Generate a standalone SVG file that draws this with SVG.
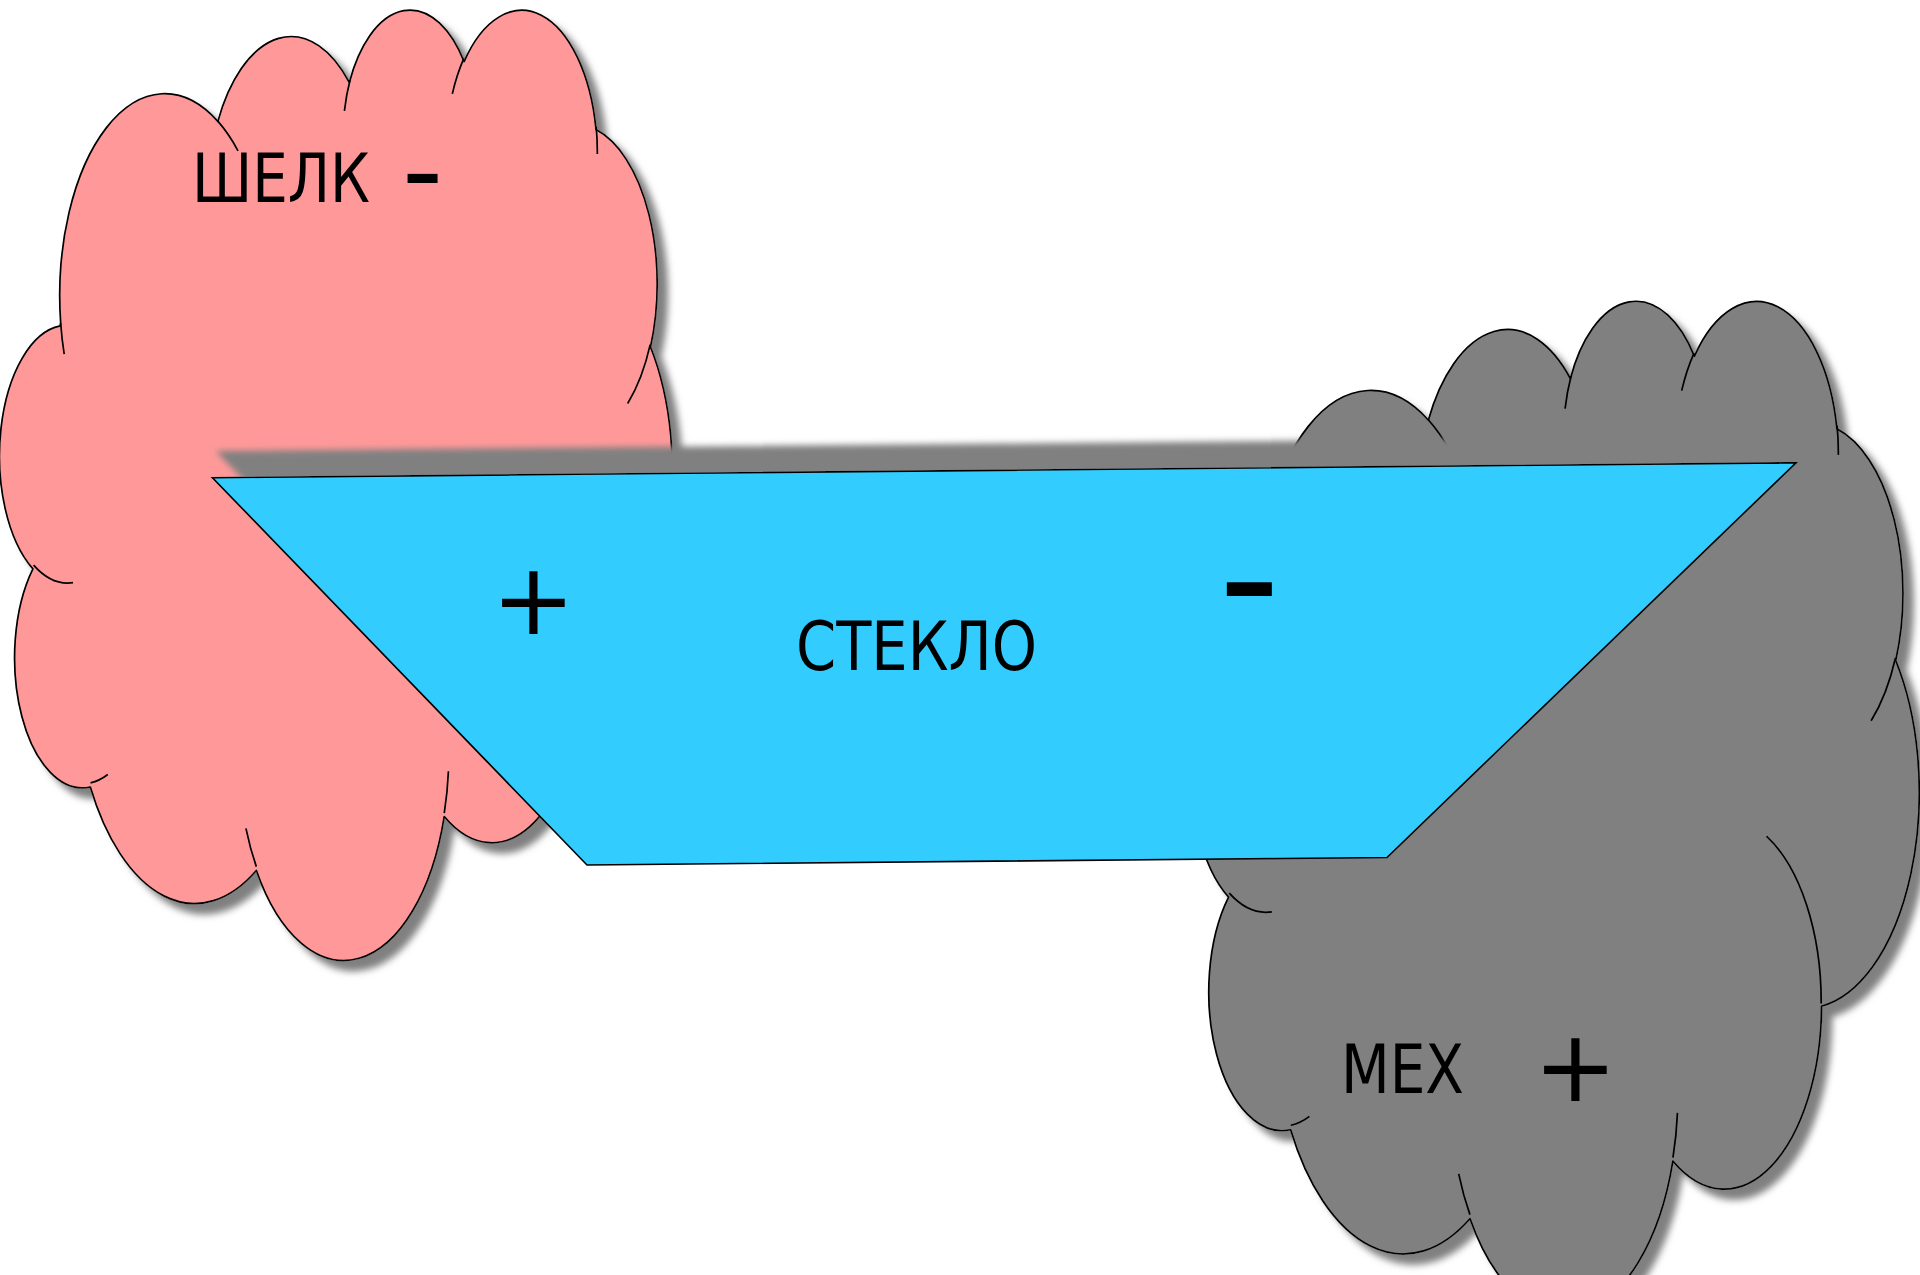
<svg xmlns="http://www.w3.org/2000/svg" width="1920" height="1275" viewBox="0 0 1920 1275">
  <style>
    .outline { stroke: #000; stroke-width: 1.7; stroke-linejoin: round; }
    .inner { fill: none; stroke: #000; stroke-width: 1.7; }
    .label { font-family: "DejaVu Sans Condensed", "DejaVu Sans", "Verdana", sans-serif; font-stretch: condensed; font-size: 67px; fill: #000; }
    .sign { font-family: "DejaVu Sans", "Verdana", sans-serif; fill: #000; }
  </style>
  <defs>
    <path id="cloud" vector-effect="non-scaling-stroke" d="M 3900 14370 A 6753 9190 0 0 1 14005 5202 A 5333 7267 0 0 1 22456 3432 A 4365 5945 0 0 1 29833 2480 A 4857 6595 0 0 1 38318 5576 A 5333 7273 0 0 1 41819 15459 A 6775 9220 0 0 1 37405 30203 A 5785 7867 0 0 1 28557 36813 A 6752 9215 0 0 1 16481 39264 A 7720 10543 0 0 1 5805 35470 A 4360 5918 0 0 1 2114 25548 A 4345 5945 0 0 1 3864 14504 Z"/>
    <path id="cloudInner" vector-effect="non-scaling-stroke" d="M 4693 26177 A 4345 5945 0 0 1 2160 25380 M 6928 34899 A 4360 5918 0 0 1 5820 35280 M 16478 39090 A 6752 9215 0 0 1 15810 37350 M 28827 34751 A 6752 9215 0 0 1 28560 36660 M 34129 22954 A 5785 7867 0 0 1 37380 30090 M 41798 15354 A 5333 7273 0 0 1 40350 18030 M 38324 5426 A 4857 6595 0 0 1 38400 6690 M 29078 3952 A 4857 6595 0 0 1 29820 2340 M 22141 4720 A 4365 5945 0 0 1 22500 3330 M 14000 5192 A 6753 9190 0 0 1 15300 6540 M 4127 15789 A 6753 9190 0 0 1 3900 14370"/>
    <filter id="cloudShadow" x="-5%" y="-5%" width="115%" height="115%">
      <feGaussianBlur in="SourceAlpha" stdDeviation="3.5"/>
      <feOffset dx="10" dy="10" result="b"/>
      <feFlood flood-color="#808080"/>
      <feComposite in2="b" operator="in"/>
      <feMerge><feMergeNode/><feMergeNode in="SourceGraphic"/></feMerge>
    </filter>
    <filter id="trapShadow" x="-5%" y="-15%" width="110%" height="130%">
      <feGaussianBlur in="SourceAlpha" stdDeviation="3"/>
      <feOffset dx="5" dy="-26" result="b"/>
      <feFlood flood-color="#808080"/>
      <feComposite in2="b" operator="in"/>
      <feMerge><feMergeNode/><feMergeNode in="SourceGraphic"/></feMerge>
    </filter>
  </defs>

  <g id="silk" filter="url(#cloudShadow)">
    <g transform="translate(0,7) scale(0.0155556,0.0219907)">
      <use href="#cloud" class="outline" fill="#ff9999"/>
      <use href="#cloudInner" class="inner"/>
    </g>
  </g>

  <g id="fur" filter="url(#cloudShadow)">
    <g transform="translate(1193,298) scale(0.0168056,0.0234491)">
      <use href="#cloud" class="outline" fill="#808080"/>
      <use href="#cloudInner" class="inner"/>
    </g>
  </g>

  <g id="glass" filter="url(#trapShadow)">
    <polygon points="212.5,477.7 1796,462.8 1387,857.5 587,865" fill="#33ccff" stroke="#000" stroke-width="1.6" stroke-linejoin="miter"/>
  </g>

  <g id="connectors"></g>

  <g id="labels">
    <text class="label" x="192" y="202" textLength="178" lengthAdjust="spacingAndGlyphs">ШЕЛК</text>
    <text class="sign" x="402" y="210" font-size="114">-</text>
    <text class="label" x="796" y="670" textLength="241" lengthAdjust="spacingAndGlyphs">СТЕКЛО</text>
    <text class="sign" x="491.5" y="634" font-size="100">+</text>
    <text class="sign" x="1218.6" y="636" font-size="171">-</text>
    <text class="label" x="1341" y="1093" textLength="123" lengthAdjust="spacingAndGlyphs">МЕХ</text>
    <text class="sign" x="1533.5" y="1101" font-size="100">+</text>
  </g>
</svg>
